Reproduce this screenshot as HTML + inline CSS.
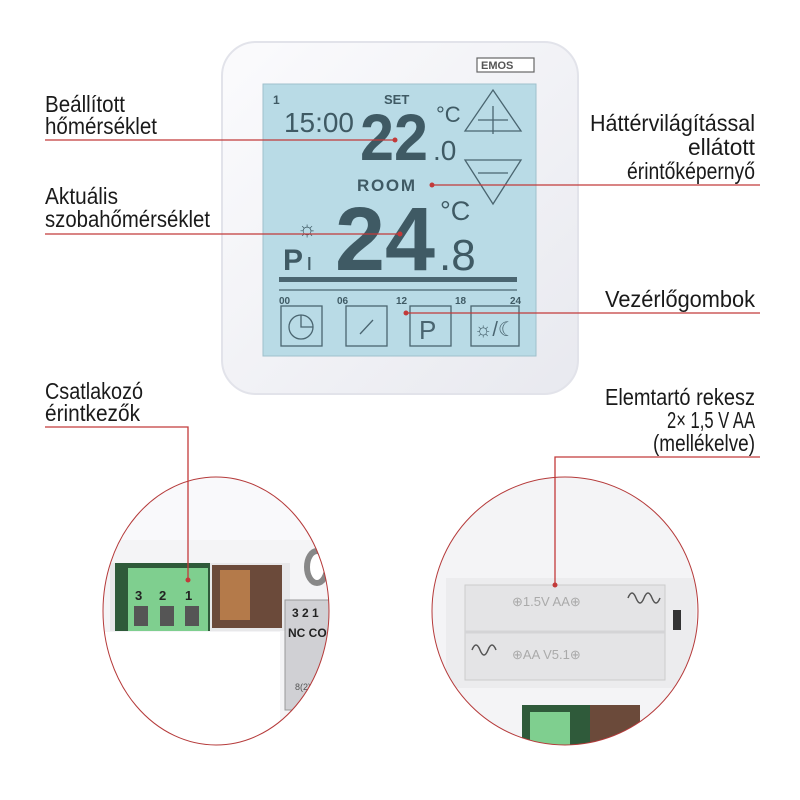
<!DOCTYPE html>
<html><head><meta charset="utf-8"><style>
html,body{margin:0;padding:0;background:#fff;}
svg{display:block;}
text{font-family:"Liberation Sans",sans-serif;}
</style></head><body>
<svg width="800" height="800" viewBox="0 0 800 800" xmlns="http://www.w3.org/2000/svg">
<defs>
<linearGradient id="dev" x1="0" y1="0" x2="1" y2="1"><stop offset="0" stop-color="#fbfbfd"/><stop offset="1" stop-color="#e8e9ef"/></linearGradient>
<clipPath id="c1"><ellipse cx="216" cy="611" rx="113" ry="134"/></clipPath>
<clipPath id="c2"><ellipse cx="565" cy="611" rx="133" ry="134"/></clipPath>
</defs>
<rect width="800" height="800" fill="#fff"/>
<rect x="222" y="42" width="356" height="352" rx="34" fill="url(#dev)" stroke="#e2e3ea" stroke-width="2"/>
<rect x="477" y="58" width="57" height="14" fill="#fff" stroke="#666" stroke-width="1.2"/>
<text x="481" y="69" font-size="11" font-weight="bold" fill="#555">EMOS</text>
<rect x="263" y="84" width="273" height="272" fill="#b9dbe6" stroke="#9fc0cc"/>
<g fill="#3f5a64">
<text x="273" y="104" font-size="12" font-weight="bold">1</text>
<text x="384" y="104" font-size="13" font-weight="bold">SET</text>
<text x="284" y="132" font-size="28" textLength="70" lengthAdjust="spacingAndGlyphs">15:00</text>
<text x="360" y="160" font-size="66" font-weight="bold" textLength="68" lengthAdjust="spacingAndGlyphs">22</text>
<text x="433" y="160" font-size="28">.0</text>
<text x="436" y="122" font-size="22">°C</text>
<text x="357" y="191" font-size="17" font-weight="bold" textLength="58">ROOM</text>
<text x="335" y="270" font-size="90" font-weight="bold" textLength="100" lengthAdjust="spacingAndGlyphs">24</text>
<text x="439" y="270" font-size="44">.8</text>
<text x="440" y="220" font-size="27">°C</text>
<text x="283" y="270" font-size="30" font-weight="bold">P</text>
<text x="306" y="270" font-size="24">ı</text>
<text x="297" y="236" font-size="22">☼</text>
<text x="279" y="304" font-size="10" font-weight="bold">00</text>
<text x="337" y="304" font-size="10" font-weight="bold">06</text>
<text x="396" y="304" font-size="10" font-weight="bold">12</text>
<text x="455" y="304" font-size="10" font-weight="bold">18</text>
<text x="510" y="304" font-size="10" font-weight="bold">24</text>
</g>
<rect x="279" y="277" width="238" height="5" fill="#4a6570"/>
<line x1="279" y1="290" x2="517" y2="290" stroke="#4a6570" stroke-width="1.2"/>
<g fill="none" stroke="#4a6570" stroke-width="1.3">
<path d="M465 131 L493 90 L521 131 Z"/><path d="M478 120 H508 M493 106 V134"/>
<path d="M465 160 L493 204 L521 160 Z"/><path d="M478 173 H508"/>
<rect x="281" y="306" width="41" height="40"/><rect x="346" y="306" width="41" height="40"/><rect x="410" y="306" width="41" height="40"/><rect x="471" y="306" width="48" height="40"/>
<circle cx="301" cy="327" r="12"/><path d="M301 315 V327 H313"/>
<path d="M360 334 L373 320"/>
</g>
<text x="419" y="339" font-size="26" fill="#4a6570">P</text>
<text x="474" y="336" font-size="20" fill="#4a6570">☼/☾</text>

<g clip-path="url(#c1)">
<rect x="100" y="470" width="240" height="280" fill="#f4f4f6"/>
<rect x="100" y="470" width="215" height="70" fill="#f9f9fb"/>
<rect x="100" y="632" width="180" height="120" fill="#fff"/>
<rect x="110" y="563" width="180" height="68" fill="#e8e8ea"/>
<rect x="115" y="563" width="95" height="68" fill="#2f5a3a"/>
<rect x="128" y="568" width="80" height="63" fill="#7fcf8f"/>
<rect x="212" y="565" width="70" height="63" fill="#6b4a3a"/>
<rect x="220" y="570" width="30" height="50" fill="#b47a4a"/>
<rect x="134" y="606" width="14" height="20" fill="#555"/><rect x="160" y="606" width="14" height="20" fill="#555"/><rect x="185" y="606" width="14" height="20" fill="#555"/>
<text x="135" y="600" font-size="13" font-weight="bold" fill="#222">3</text>
<text x="159" y="600" font-size="13" font-weight="bold" fill="#222">2</text>
<text x="185" y="600" font-size="13" font-weight="bold" fill="#222">1</text>
<rect x="285" y="600" width="60" height="110" fill="#d0d0d4" stroke="#999"/>
<text x="292" y="617" font-size="12" font-weight="bold" fill="#222">3  2  1</text>
<text x="288" y="637" font-size="12" font-weight="bold" fill="#222">NC COM NC</text>
<text x="295" y="690" font-size="9" fill="#555">8(2)A / 230</text>
<ellipse cx="317" cy="567" rx="10" ry="16" fill="#fff" stroke="#888" stroke-width="6"/>
</g>
<ellipse cx="216" cy="611" rx="113" ry="134" fill="none" stroke="#b53a3a" stroke-width="1"/>

<g clip-path="url(#c2)">
<rect x="430" y="470" width="270" height="280" fill="#f4f4f6"/>
<rect x="446" y="578" width="250" height="110" fill="#ececee"/>
<rect x="465" y="585" width="200" height="95" fill="#e4e4e6" stroke="#ccc"/>
<line x1="465" y1="632" x2="665" y2="632" stroke="#d4d4d6" stroke-width="3"/>
<text x="512" y="606" font-size="13" fill="#aaa">⊕1.5V AA⊕</text>
<text x="512" y="659" font-size="13" fill="#aaa">⊕AA V5.1⊕</text>
<path d="M628 598 q4 -10 8 0 q4 10 8 0 q4 -10 8 0 q4 10 8 0" fill="none" stroke="#555" stroke-width="1.5"/>
<path d="M472 650 q4 -10 8 0 q4 10 8 0 q4 -10 8 0" fill="none" stroke="#555" stroke-width="1.5"/>
<rect x="673" y="610" width="8" height="20" fill="#333"/>
<rect x="522" y="705" width="70" height="45" fill="#2f5a3a"/>
<rect x="530" y="712" width="40" height="40" fill="#7fcf8f"/>
<rect x="590" y="705" width="50" height="45" fill="#6b4a3a"/>
</g>
<ellipse cx="565" cy="611" rx="133" ry="134" fill="none" stroke="#b53a3a" stroke-width="1"/>

<g stroke="#c23a3a" stroke-width="1.3" fill="none">
<path d="M45 140 H395"/>
<path d="M45 234 H400"/>
<path d="M432 185 H760"/>
<path d="M406 313 H760"/>
<path d="M45 427 H188 V580"/>
<path d="M760 457 H555 V585"/>
</g>
<g fill="#c23a3a">
<circle cx="395" cy="140" r="2.5"/><circle cx="400" cy="234" r="2.5"/><circle cx="432" cy="185" r="2.5"/><circle cx="406" cy="313" r="2.5"/><circle cx="188" cy="580" r="2.5"/><circle cx="555" cy="585" r="2.5"/>
</g>
<g fill="#1a1a1a" font-size="23">
<text x="45" y="112" textLength="80" lengthAdjust="spacingAndGlyphs">Beállított</text>
<text x="45" y="134" textLength="112" lengthAdjust="spacingAndGlyphs">hőmérséklet</text>
<text x="45" y="204" textLength="73" lengthAdjust="spacingAndGlyphs">Aktuális</text>
<text x="45" y="227" textLength="165" lengthAdjust="spacingAndGlyphs">szobahőmérséklet</text>
<text x="45" y="399" textLength="98" lengthAdjust="spacingAndGlyphs">Csatlakozó</text>
<text x="45" y="421" textLength="95" lengthAdjust="spacingAndGlyphs">érintkezők</text>
<text x="590" y="131" textLength="165" lengthAdjust="spacingAndGlyphs">Háttérvilágítással</text>
<text x="688" y="155" textLength="67" lengthAdjust="spacingAndGlyphs">ellátott</text>
<text x="627" y="179" textLength="128" lengthAdjust="spacingAndGlyphs">érintőképernyő</text>
<text x="605" y="307" textLength="150" lengthAdjust="spacingAndGlyphs">Vezérlőgombok</text>
<text x="605" y="405" textLength="150" lengthAdjust="spacingAndGlyphs">Elemtartó rekesz</text>
<text x="667" y="428" textLength="88" lengthAdjust="spacingAndGlyphs">2× 1,5 V AA</text>
<text x="653" y="451" textLength="102" lengthAdjust="spacingAndGlyphs">(mellékelve)</text>
</g>
</svg>
</body></html>
